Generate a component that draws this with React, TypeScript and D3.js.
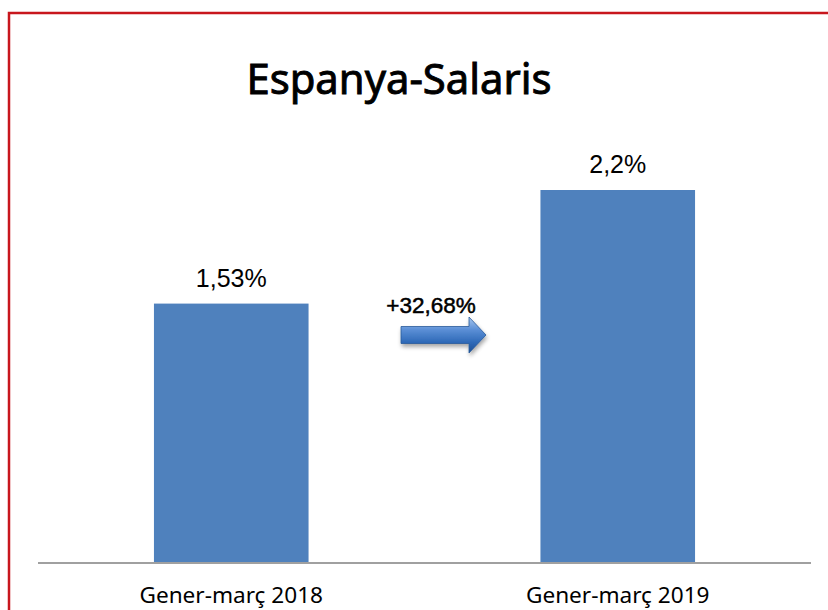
import React from "react";
import * as d3 from "d3";

const categories = ["Gener-març 2018", "Gener-març 2019"];
const values = [1.53, 2.2];
const valueLabels = ["1,53%", "2,2%"];
const changeLabel = "+32,68%";
const title = "Espanya-Salaris";

const W = 828;
const H = 610;

export default function App() {
  const x = d3.scaleBand<string>().domain(categories).range([38, 811]).paddingInner(0.6).paddingOuter(0.3);
  const y = d3.scaleLinear().domain([0, 2.2]).range([563, 190]);
  const bw = x.bandwidth();

  const ax0 = 401, ax1 = 486, ayc = 335, hx = 469;
  const arrowPath = `M${ax0},${ayc - 8.5} L${hx},${ayc - 8.5} L${hx},${ayc - 18} L${ax1},${ayc} L${hx},${ayc + 18} L${hx},${ayc + 8.5} L${ax0},${ayc + 8.5} Z`;

  return (
    <svg width={W} height={H} style={{ position: "absolute", left: 0, top: 0, background: "#fff" }}>
      <defs>
        <linearGradient id="ag" x1="0" y1="0" x2="0" y2="1">
          <stop offset="0" stopColor="#a9c8ef" />
          <stop offset="0.35" stopColor="#5b8fd6" />
          <stop offset="0.7" stopColor="#2f6ab8" />
          <stop offset="1" stopColor="#1d4f94" />
        </linearGradient>
        <filter id="sh" x="-20%" y="-30%" width="140%" height="180%">
          <feGaussianBlur in="SourceAlpha" stdDeviation="2" />
          <feOffset dx="1" dy="3" result="b" />
          <feComponentTransfer><feFuncA type="linear" slope="0.35" /></feComponentTransfer>
          <feMerge><feMergeNode /><feMergeNode in="SourceGraphic" /></feMerge>
        </filter>
      </defs>
      <rect x={0} y={0} width={W} height={H} fill="#fff" />
      <path d={`M9,${H + 5} L9,13 L${W + 5},13`} fill="none" stroke="#c8161d" strokeWidth={2.5} />
      <text x={399} y={94} textAnchor="middle" fontFamily="Noto Sans" fontSize={41.8} fill="#000" stroke="#000" strokeWidth={0.9}>{title}</text>
      {categories.map((c, i) => (
        <g key={c}>
          <rect x={x(c)} y={y(values[i])} width={bw} height={y(0) - y(values[i])} fill="#4f81bd" />
          <text x={(x(c) as number) + bw / 2} y={y(values[i]) - 17} textAnchor="middle" fontFamily="Liberation Sans" fontSize={25} fill="#000">{valueLabels[i]}</text>
          <text x={(x(c) as number) + bw / 2} y={603} textAnchor="middle" fontFamily="Noto Sans" fontSize={22.6} fill="#000">{c}</text>
        </g>
      ))}
      <line x1={38} x2={811} y1={y(0)} y2={y(0)} stroke="#a0a0a0" strokeWidth={2} />
      <text x={431} y={313} textAnchor="middle" fontFamily="Liberation Sans" fontSize={22.5} fill="#000" stroke="#000" strokeWidth={0.5}>{changeLabel}</text>
      <path d={arrowPath} fill="url(#ag)" stroke="#2a5a9a" strokeWidth={0.8} filter="url(#sh)" />
    </svg>
  );
}
